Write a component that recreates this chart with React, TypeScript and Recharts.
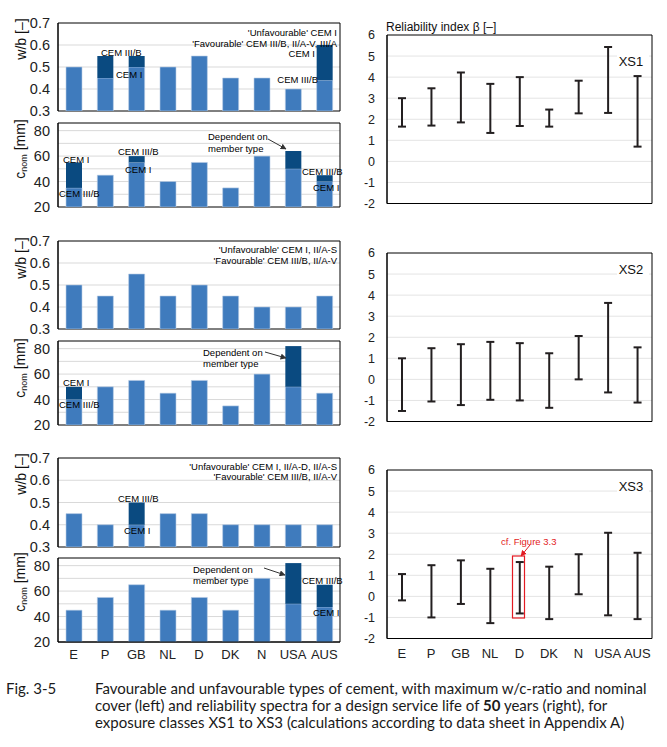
import React from "react";
import {
  BarChart,
  Bar,
  XAxis,
  YAxis,
  CartesianGrid,
  ReferenceArea,
} from "recharts";

const countries = ["E", "P", "GB", "NL", "D", "DK", "N", "USA", "AUS"];

// w/b ratio: light bar = favourable cement, dark top = unfavourable cement
const wbLowXS1 = [0.5, 0.45, 0.5, 0.5, 0.55, 0.45, 0.45, 0.4, 0.44];
const wbHighXS1 = [0.5, 0.55, 0.55, 0.5, 0.55, 0.45, 0.45, 0.4, 0.6];
const wbLowXS2 = [0.5, 0.45, 0.55, 0.45, 0.5, 0.45, 0.4, 0.4, 0.45];
const wbHighXS2 = [0.5, 0.45, 0.55, 0.45, 0.5, 0.45, 0.4, 0.4, 0.45];
const wbLowXS3 = [0.45, 0.4, 0.4, 0.45, 0.45, 0.4, 0.4, 0.4, 0.4];
const wbHighXS3 = [0.45, 0.4, 0.5, 0.45, 0.45, 0.4, 0.4, 0.4, 0.4];

// nominal cover [mm]
const cLowXS1 = [35, 45, 55, 40, 55, 35, 60, 50, 40];
const cHighXS1 = [55, 45, 60, 40, 55, 35, 60, 64, 45];
const cLowXS2 = [40, 50, 55, 45, 55, 35, 60, 50, 45];
const cHighXS2 = [50, 50, 55, 45, 55, 35, 60, 82, 45];
const cLowXS3 = [45, 55, 65, 45, 55, 45, 70, 50, 47.5];
const cHighXS3 = [45, 55, 65, 45, 55, 45, 70, 82, 65];

// reliability index beta, min / max
const betaMinXS1 = [1.65, 1.7, 1.85, 1.35, 1.68, 1.65, 2.28, 2.3, 0.7];
const betaMaxXS1 = [3.0, 3.47, 4.22, 3.68, 4.0, 2.46, 3.83, 5.43, 4.05];
const betaMinXS2 = [-1.5, -1.05, -1.22, -0.97, -1.0, -1.35, 0.0, -0.62, -1.1];
const betaMaxXS2 = [1.0, 1.48, 1.67, 1.78, 1.72, 1.24, 2.06, 3.63, 1.52];
const betaMinXS3 = [-0.19, -1.0, -0.36, -1.27, -0.81, -1.08, 0.1, -0.9, -1.08];
const betaMaxXS3 = [1.06, 1.48, 1.71, 1.31, 1.63, 1.41, 2.0, 3.02, 2.07];

const wbTicks = [0.3, 0.4, 0.5, 0.6, 0.7];
const cTicks = [20, 40, 60, 80];
const betaTicks = [-2, -1, 0, 1, 2, 3, 4, 5, 6];

const LIGHT = "#3f7bbd";
const DARK = "#0a4a80";
const FONT = "'Liberation Sans', Arial, sans-serif";

type LeftProps = {
  top: number;
  plotH: number;
  low: number[];
  high: number[];
  kind: "wb" | "c";
  showX?: boolean;
};

const LeftPanel = ({ top, plotH, low, high, kind, showX }: LeftProps) => {
  const data = countries.map((c, i) => ({
    name: c,
    low: low[i],
    extra: Math.round((high[i] - low[i]) * 1000) / 1000,
  }));
  const isWb = kind === "wb";
  const domain = isWb ? [0.3, 0.7] : [20, 86];
  const mt = 10;
  const mb = showX ? 0 : 10;
  const xh = showX ? 26 : 0;
  return (
    <div style={{ position: "absolute", left: 0, top: top - mt }}>
      <BarChart
        width={341}
        height={plotH + mt + mb + xh}
        data={data}
        margin={{ top: mt, right: 1, bottom: mb, left: 0 }}
        barSize={16}
      >
        <CartesianGrid
          vertical={false}
          horizontalValues={isWb ? [0.4, 0.5, 0.6] : [30, 40, 50, 60, 70, 80]}
          stroke="#d9d9d9"
        />
        <XAxis
          dataKey="name"
          hide={!showX}
          height={xh}
          tickLine={false}
          axisLine={{ stroke: "#000" }}
          tick={{ fontSize: 13, fill: "#222", fontFamily: FONT }}
          interval={0}
        />
        <YAxis
          domain={domain}
          ticks={isWb ? wbTicks : cTicks}
          interval={0}
          allowDataOverflow
          width={58}
          tickLine={false}
          axisLine={{ stroke: "#000" }}
          tickFormatter={(v: number) => (isWb ? v.toFixed(1) : String(v))}
          tick={{ fontSize: 14.5, fill: "#222", fontFamily: FONT }}
        />
        <Bar dataKey="low" stackId="a" fill={LIGHT} stroke="#b9cde6" strokeWidth={0.6} isAnimationActive={false} />
        <Bar dataKey="extra" stackId="a" fill={DARK} isAnimationActive={false} />
        <ReferenceArea y1={domain[0]} y2={domain[1]} fill="none" stroke="#000" strokeWidth={1} />
      </BarChart>
    </div>
  );
};

const IBeam = (p: any) => {
  const { x, y, width, height } = p;
  if (x == null || y == null) return null;
  const cx = x + width / 2;
  const y2 = y + height;
  return (
    <g stroke="#231f20" strokeWidth={2}>
      <line x1={cx} x2={cx} y1={y} y2={y2} />
      <line x1={x} x2={x + width} y1={y} y2={y} />
      <line x1={x} x2={x + width} y1={y2} y2={y2} />
    </g>
  );
};

type RightProps = { top: number; lo: number[]; hi: number[]; showX?: boolean };

const RightPanel = ({ top, lo, hi, showX }: RightProps) => {
  const data = countries.map((c, i) => ({ name: c, range: [lo[i], hi[i]] }));
  const mt = 10;
  const plotH = 168.5;
  const xh = showX ? 24 : 0;
  return (
    <div style={{ position: "absolute", left: 340, top: top - mt }}>
      <BarChart
        width={314}
        height={plotH + mt + 10 + xh}
        data={data}
        margin={{ top: mt, right: 2, bottom: 10, left: 0 }}
        barSize={8}
      >
        <CartesianGrid
          vertical={false}
          horizontalValues={[-1, 0, 1, 2, 3, 4, 5]}
          stroke="#e4e4e4"
        />
        <XAxis
          dataKey="name"
          hide={!showX}
          height={xh}
          tickLine={false}
          axisLine={false}
          tickMargin={4}
          tick={{ fontSize: 13, fill: "#222", fontFamily: FONT }}
          interval={0}
        />
        <YAxis
          domain={[-2, 6]}
          ticks={betaTicks}
          interval={0}
          width={47}
          tickLine={false}
          axisLine={{ stroke: "#000" }}
          tickMargin={6}
          tick={{ fontSize: 12.5, fill: "#222", fontFamily: FONT }}
        />
        <Bar dataKey="range" shape={IBeam} isAnimationActive={false} />
        <ReferenceArea y1={-2} y2={6} fill="none" stroke="#000" strokeWidth={1} />
      </BarChart>
    </div>
  );
};

const Note = ({ x, y, t, end }: { x: number; y: number; t: string; end?: boolean }) => (
  <text x={x} y={y} textAnchor={end ? "end" : "start"} dominantBaseline="central">
    {t}
  </text>
);

const WbLabel = ({ y }: { y: number }) => (
  <text x={21} y={y} transform={`rotate(-90 21 ${y})`} textAnchor="middle" dominantBaseline="central" fontSize={14}>
    w/b [–]
  </text>
);

const CLabel = ({ y }: { y: number }) => (
  <text x={20} y={y} transform={`rotate(-90 20 ${y})`} textAnchor="middle" dominantBaseline="central" fontSize={14}>
    c<tspan fontSize={9} dy={4}>nom</tspan>
    <tspan dy={-4}> [mm]</tspan>
  </text>
);

const XsTag = ({ y, t }: { y: number; t: string }) => (
  <g>
    <rect x={617} y={y - 8} width={32} height={16} fill="#fff" />
    <text x={631} y={y} textAnchor="middle" dominantBaseline="central" fontSize={13}>
      {t}
    </text>
  </g>
);

const Overlay = () => (
  <svg
    width={667}
    height={747}
    style={{ position: "absolute", left: 0, top: 0, pointerEvents: "none" }}
    fontFamily={FONT}
    fill="#111"
  >
    <defs>
      <marker id="ah" viewBox="0 0 10 10" refX="9" refY="5" markerWidth="6" markerHeight="6" orient="auto">
        <path d="M0,0 L10,5 L0,10 z" fill="#333" />
      </marker>
      <marker id="ahr" viewBox="0 0 10 10" refX="9" refY="5" markerWidth="6" markerHeight="6" orient="auto">
        <path d="M0,0 L10,5 L0,10 z" fill="#e31b23" />
      </marker>
    </defs>

    <WbLabel y={39} />
    <CLabel y={149} />
    <WbLabel y={258} />
    <CLabel y={368} />
    <WbLabel y={474} />
    <CLabel y={582} />

    <g fontSize={9.5} fill="#000">
      {/* XS1 */}
      <Note x={337} y={32} t="'Unfavourable' CEM I" end />
      <Note x={337} y={43} t="'Favourable' CEM III/B, II/A-V, III/A" end />
      <Note x={101} y={52} t="CEM III/B" />
      <Note x={116} y={74} t="CEM I" />
      <Note x={315} y={53} t="CEM I" end />
      <Note x={318} y={79} t="CEM III/B" end />
      <Note x={63} y={159} t="CEM I" />
      <Note x={59} y={193} t="CEM III/B" />
      <Note x={118} y={151} t="CEM III/B" />
      <Note x={125} y={169} t="CEM I" />
      <Note x={208} y={136} t="Dependent on" />
      <Note x={208} y={148} t="member type" />
      <line x1={268} y1={139} x2={286} y2={149} stroke="#333" markerEnd="url(#ah)" />
      <Note x={302} y={171} t="CEM III/B" />
      <Note x={313} y={187} t="CEM I" />

      {/* XS2 */}
      <Note x={337} y={249} t="'Unfavourable' CEM I, II/A-S" end />
      <Note x={337} y={260} t="'Favourable' CEM III/B, II/A-V" end />
      <Note x={63} y={382} t="CEM I" />
      <Note x={59} y={404} t="CEM III/B" />
      <Note x={203} y={352} t="Dependent on" />
      <Note x={203} y={363} t="member type" />
      <line x1={265} y1={352} x2={286} y2={358} stroke="#333" markerEnd="url(#ah)" />

      {/* XS3 */}
      <Note x={337} y={466} t="'Unfavourable' CEM I, II/A-D, II/A-S" end />
      <Note x={337} y={476} t="'Favourable' CEM III/B, II/A-V" end />
      <Note x={118} y={498} t="CEM III/B" />
      <Note x={124} y={530} t="CEM I" />
      <Note x={193} y={569} t="Dependent on" />
      <Note x={193} y={580} t="member type" />
      <line x1={264} y1={568} x2={285} y2={575} stroke="#333" markerEnd="url(#ah)" />
      <Note x={302} y={580} t="CEM III/B" />
      <Note x={313} y={612} t="CEM I" />
    </g>

    <text x={386} y={27} fontSize={12} dominantBaseline="central">
      Reliability index β [–]
    </text>
    <XsTag y={61} t="XS1" />
    <XsTag y={269} t="XS2" />
    <XsTag y={486} t="XS3" />

    <g fill="#e31b23">
      <text x={501} y={541} fontSize={9.5} dominantBaseline="central">
        cf. Figure 3.3
      </text>
    </g>
    <line x1={530} y1={545} x2={521} y2={556} stroke="#e31b23" markerEnd="url(#ahr)" />
    <rect x={512.5} y={556} width={12} height={62} fill="none" stroke="#e31b23" strokeWidth={1.2} />

    <g fontFamily="Lato, 'Open Sans', sans-serif" fontSize={15} fill="#1a1a1a">
      <text x={6} y={694}>Fig. 3-5</text>
      <text x={95} y={694}>
        Favourable and unfavourable types of cement, with maximum w/c-ratio and nominal
      </text>
      <text x={95} y={711}>
        cover (left) and reliability spectra for a design service life of <tspan fontWeight="bold">50</tspan> years (right), for
      </text>
      <text x={95} y={728}>
        exposure classes XS1 to XS3 (calculations according to data sheet in Appendix A)
      </text>
    </g>
  </svg>
);

export default function App() {
  return (
    <div
      style={{
        position: "absolute",
        left: 0,
        top: 0,
        width: 667,
        height: 747,
        background: "#fff",
        fontFamily: FONT,
      }}
    >
      <LeftPanel top={23} plotH={88} low={wbLowXS1} high={wbHighXS1} kind="wb" />
      <LeftPanel top={123} plotH={84} low={cLowXS1} high={cHighXS1} kind="c" />
      <LeftPanel top={241} plotH={88} low={wbLowXS2} high={wbHighXS2} kind="wb" />
      <LeftPanel top={341} plotH={84} low={cLowXS2} high={cHighXS2} kind="c" />
      <LeftPanel top={458} plotH={89} low={wbLowXS3} high={wbHighXS3} kind="wb" />
      <LeftPanel top={558} plotH={84} low={cLowXS3} high={cHighXS3} kind="c" showX />

      <RightPanel top={35} lo={betaMinXS1} hi={betaMaxXS1} />
      <RightPanel top={252.5} lo={betaMinXS2} hi={betaMaxXS2} />
      <RightPanel top={470} lo={betaMinXS3} hi={betaMaxXS3} showX />

      <Overlay />
    </div>
  );
}
